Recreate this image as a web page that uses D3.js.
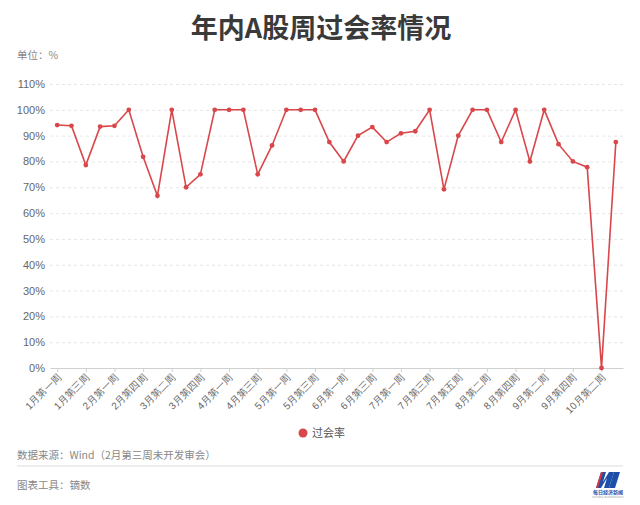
<!DOCTYPE html>
<html lang="zh">
<head>
<meta charset="utf-8">
<title>年内A股周过会率情况</title>
<script src="https://d3js.org/d3.v7.min.js"></script>
<style>
    body { margin: 0; background: #fff; }
    svg { display: block; font-family: "Noto Sans CJK SC", "Noto Sans", sans-serif; }
    .grid line { stroke: #e6e6e6; stroke-dasharray: 3, 3; }
    .grid .domain { display: none; }
</style>
</head>
<body>
<svg id="chart"></svg>
<script>
// data
const weeks = [
    "1月第一周", "1月第二周", "1月第三周", "1月第四周", "2月第一周", "2月第二周", "2月第四周",
    "3月第一周", "3月第二周", "3月第三周", "3月第四周", "3月第五周", "4月第一周", "4月第二周",
    "4月第三周", "4月第四周", "5月第一周", "5月第二周", "5月第三周", "5月第四周", "6月第一周",
    "6月第二周", "6月第三周", "6月第四周", "7月第一周", "7月第二周", "7月第三周", "7月第四周",
    "7月第五周", "8月第一周", "8月第二周", "8月第三周", "8月第四周", "9月第一周", "9月第二周",
    "9月第三周", "9月第四周", "10月第一周", "10月第二周", "10月第三周"
];
const passRate = [
    94.1, 93.8, 78.6, 93.5, 93.8, 100, 81.8, 66.7, 100, 70, 75, 100, 100, 100,
    75, 86.2, 100, 100, 100, 87.5, 80, 90, 93.3, 87.5, 90.9, 91.7, 100, 69.2,
    90, 100, 100, 87.5, 100, 80, 100, 86.7, 80, 77.8, 0, 87.5
];
const yTicks = [0, 10, 20, 30, 40, 50, 60, 70, 80, 90, 100, 110];

const W = 640, H = 505;
const margin = { top: 84, right: 17, bottom: 137, left: 50 };
const width = W - margin.left - margin.right;
const height = H - margin.top - margin.bottom;
const red = "#d9474b";

const svg = d3.select("#chart").attr("width", W).attr("height", H);

// title & unit
svg.append("text").attr("x", 321).attr("y", 38).attr("text-anchor", "middle")
    .attr("font-size", 27).attr("font-weight", "bold").attr("fill", "#3a3a3a")
    .text("年内A股周过会率情况");
svg.append("text").attr("x", 17).attr("y", 59).attr("font-size", 10.5).attr("fill", "#888")
    .text("单位：%");

const g = svg.append("g").attr("transform", `translate(${margin.left},${margin.top})`);

const x = d3.scalePoint().domain(weeks).range([0, width]).padding(0.5);
const y = d3.scaleLinear().domain([0, 110]).range([height, 0]);

// grid + y labels
const yAxis = g.append("g").attr("class", "grid")
    .call(d3.axisLeft(y).tickValues(yTicks).tickSize(-width).tickPadding(5).tickFormat(d => d + "%"));
yAxis.selectAll(".tick line").filter(d => d === 0).remove();
yAxis.selectAll("text").attr("font-size", 11).attr("fill", "#666").attr("font-family", "inherit");

// x axis
const xAxis = g.append("g").attr("transform", `translate(0,${height})`)
    .call(d3.axisBottom(x).tickValues(weeks.filter((d, i) => i % 2 === 0)).tickSize(4).tickSizeOuter(0));
xAxis.select(".domain").attr("stroke", "#d0d0d0");
xAxis.selectAll(".tick line").attr("stroke", "#d0d0d0");
xAxis.selectAll("text")
    .attr("font-size", 10).attr("fill", "#666").attr("font-family", "inherit")
    .attr("text-anchor", "end").attr("dy", 0).attr("y", 0)
    .attr("transform", "translate(4,10) rotate(-45)");

// line + points
const line = d3.line().x((d, i) => x(weeks[i])).y(d => y(d));
g.append("path").datum(passRate).attr("d", line)
    .attr("fill", "none").attr("stroke", red).attr("stroke-width", 1.6);
g.selectAll(".pt").data(passRate).enter().append("circle")
    .attr("class", "pt").attr("cx", (d, i) => x(weeks[i])).attr("cy", d => y(d))
    .attr("r", 2.4).attr("fill", red);

// legend
svg.append("circle").attr("cx", 303).attr("cy", 433).attr("r", 4.5).attr("fill", red);
svg.append("text").attr("x", 312).attr("y", 437).attr("font-size", 11).attr("fill", "#555").text("过会率");

// footer
svg.append("text").attr("x", 17).attr("y", 459).attr("font-size", 10.5).attr("fill", "#888")
    .text("数据来源：Wind（2月第三周未开发审会）");
svg.append("line").attr("x1", 17).attr("x2", 623).attr("y1", 466).attr("y2", 466)
    .attr("stroke", "#ddd");
svg.append("text").attr("x", 17).attr("y", 489).attr("font-size", 10.5).attr("fill", "#888")
    .text("图表工具：镝数");

// logo
const logo = svg.append("g").attr("transform", "translate(592,470)");
logo.append("path").attr("d", "M4,18 L9,2 L14,2 L11,12 L17,2 L22,2 L17,18 L12,18 L15,8 L9,18 Z").attr("fill", "#1c4fa8");
logo.append("path").attr("d", "M22,2 L28,2 L23,18 L17,18 Z").attr("fill", "#1c4fa8");
logo.append("path").attr("d", "M4,18 L9,2 L11,2 L6,18 Z").attr("fill", "#d8343c");
logo.append("text").attr("x", 16).attr("y", 24).attr("text-anchor", "middle")
    .attr("font-size", 5).attr("font-weight", "bold").attr("fill", "#1c4fa8").text("每日经济新闻");
logo.append("text").attr("x", 16).attr("y", 28).attr("text-anchor", "middle")
    .attr("font-size", 2.5).attr("fill", "#999").text("NATIONAL BUSINESS DAILY");
</script>
</body>
</html>
